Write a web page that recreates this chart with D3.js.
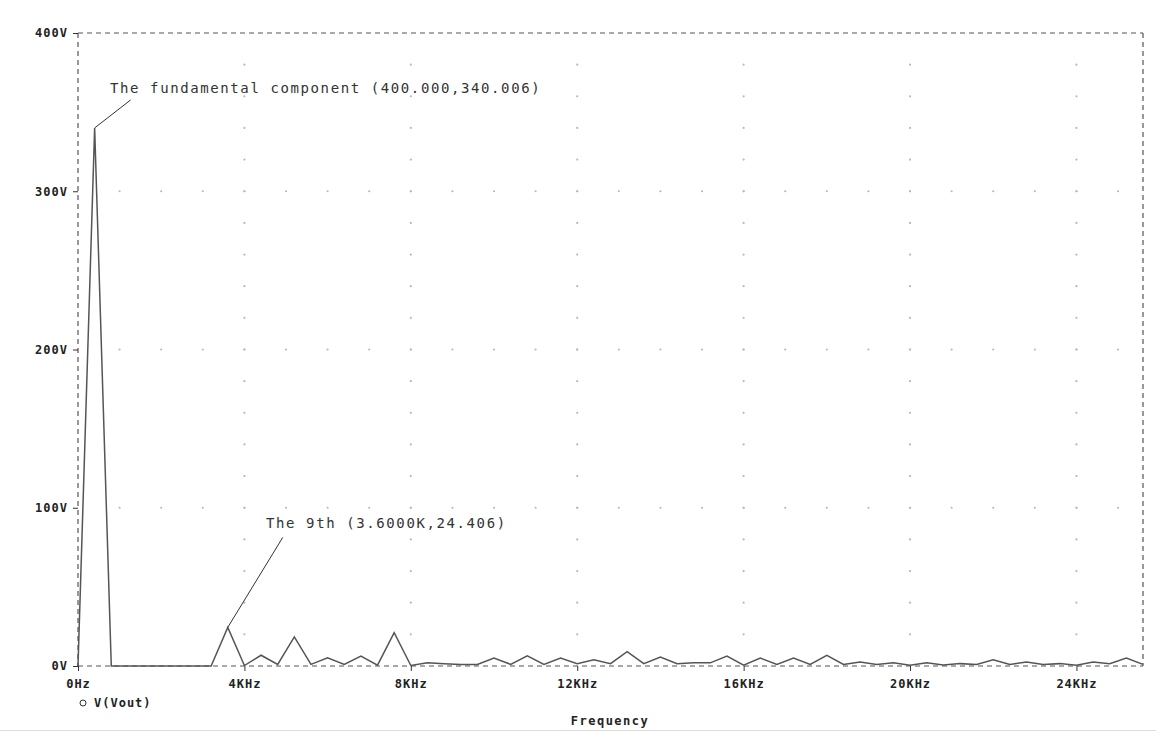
<!DOCTYPE html>
<meta charset="utf-8">
<title>Frequency spectrum</title>
<style>
body { margin: 0; background: #fff; }
svg { display: block; }
.tick-label { font-family: "DejaVu Sans Mono", monospace; font-weight: bold; font-size: 12px; fill: #222; letter-spacing: 1px; }
.note { font-family: "DejaVu Sans Mono", monospace; font-size: 14px; fill: #333; letter-spacing: 1.6px; }
</style>

<svg width="1156" height="732"></svg>
<script src="https://d3js.org/d3.v7.min.js"></script>
<script>

// sampled FFT bins (Hz)
var freqs = [0, 400, 800, 1200, 1600, 2000, 2400, 2800, 3200, 3600,
  4000, 4400, 4800, 5200, 5600, 6000, 6400, 6800, 7200, 7600,
  8000, 8400, 8800, 9200, 9600, 10000, 10400, 10800, 11200, 11600,
  12000, 12400, 12800, 13200, 13600, 14000, 14400, 14800, 15200, 15600,
  16000, 16400, 16800, 17200, 17600, 18000, 18400, 18800, 19200, 19600,
  20000, 20400, 20800, 21200, 21600, 22000, 22400, 22800, 23200, 23600,
  24000, 24400, 24800, 25200, 25600];

// V(Vout) magnitude (V)
var vout = [0, 340.006, 0, 0, 0, 0, 0, 0, 0, 24.406,
  0.3, 6.8, 1, 18.4, 1, 5.2, 1, 6.2, 0.5, 21,
  0.3, 2, 1.5, 1, 1, 5, 1, 6.4, 1, 5,
  1.5, 4, 1.5, 9, 1.5, 5.7, 1.5, 2, 2, 6.3,
  0.5, 5, 1, 5, 1, 6.7, 1, 2.5, 1, 2,
  0.5, 2, 0.7, 1.5, 1, 4, 1, 2.5, 1, 1.5,
  0.5, 2.5, 1.5, 5, 1];

var xTicks = [0, 4000, 8000, 12000, 16000, 20000, 24000];
var xTickLabels = ["0Hz", "4KHz", "8KHz", "12KHz", "16KHz", "20KHz", "24KHz"];
var yTicks = [0, 100, 200, 300, 400];
var yTickLabels = ["0V", "100V", "200V", "300V", "400V"];

var notes = [
  {f: 400, v: 340.006, text: "The fundamental component (400.000,340.006)", dx: 36, dy: -28, tx: 110, ty: 93},
  {f: 3600, v: 24.406, text: "The 9th (3.6000K,24.406)", dx: 55, dy: -90, tx: 266, ty: 528}
];

var svg = d3.select("svg");
var plotLeft = 78, plotRight = 1143, plotTop = 33, plotBottom = 666;

var x = d3.scaleLinear().domain([0, 25600]).range([plotLeft, plotRight]);
var y = d3.scaleLinear().domain([0, 400]).range([plotBottom, plotTop]);

// dotted grid (dots at minor steps along major lines)
var grid = svg.append("g").attr("fill", "#b8b8b8");
xTicks.slice(1).forEach(function(f) {
  d3.range(20, 400, 20).forEach(function(v) {
    grid.append("circle").attr("cx", x(f)).attr("cy", y(v)).attr("r", 1.1);
  });
});
yTicks.slice(1, 4).forEach(function(v) {
  d3.range(1000, 25600, 1000).forEach(function(f) {
    grid.append("circle").attr("cx", x(f)).attr("cy", y(v)).attr("r", 1.1);
  });
});

// dashed frame
var frame = svg.append("g").attr("stroke", "#555").attr("stroke-width", 1.2)
  .attr("stroke-dasharray", "5,4").attr("fill", "none");
frame.append("line").attr("x1", plotLeft).attr("x2", plotRight).attr("y1", plotTop).attr("y2", plotTop);
frame.append("line").attr("x1", plotLeft).attr("x2", plotRight).attr("y1", plotBottom).attr("y2", plotBottom);
frame.append("line").attr("x1", plotLeft).attr("x2", plotLeft).attr("y1", plotTop).attr("y2", plotBottom);
frame.append("line").attr("x1", plotRight).attr("x2", plotRight).attr("y1", plotTop).attr("y2", plotBottom);

// axes
var xAxis = svg.append("g").attr("transform", "translate(0," + plotBottom + ")")
  .call(d3.axisBottom(x).tickValues(xTicks).tickSize(5).tickPadding(8)
    .tickFormat(function(d, i) { return xTickLabels[i]; }));
xAxis.select(".domain").remove();
xAxis.selectAll("line").attr("stroke", "#333");
xAxis.selectAll("text").attr("class", "tick-label");

var yAxis = svg.append("g").attr("transform", "translate(" + plotLeft + ",0)")
  .call(d3.axisLeft(y).tickValues(yTicks).tickSize(5).tickPadding(5)
    .tickFormat(function(d, i) { return yTickLabels[i]; }));
yAxis.select(".domain").remove();
yAxis.selectAll("line").attr("stroke", "#333");
yAxis.selectAll("text").attr("class", "tick-label");

// trace
var line = d3.line()
  .x(function(d, i) { return x(freqs[i]); })
  .y(function(d) { return y(d); });

svg.append("path")
  .datum(vout)
  .attr("d", line)
  .attr("fill", "none")
  .attr("stroke", "#555")
  .attr("stroke-width", 1.5);

// annotations
notes.forEach(function(n) {
  svg.append("line")
    .attr("x1", x(n.f)).attr("y1", y(n.v))
    .attr("x2", x(n.f) + n.dx).attr("y2", y(n.v) + n.dy)
    .attr("stroke", "#333").attr("stroke-width", 1);
  svg.append("text").attr("class", "note")
    .attr("x", n.tx).attr("y", n.ty).text(n.text);
});

// legend + axis title
svg.append("circle").attr("cx", 83).attr("cy", 703).attr("r", 3)
  .attr("fill", "none").attr("stroke", "#333");
svg.append("text").attr("class", "tick-label").attr("x", 94).attr("y", 707).text("V(Vout)");
svg.append("text").attr("class", "tick-label").attr("x", 610).attr("y", 725)
  .attr("text-anchor", "middle").style("letter-spacing", "1.5px").text("Frequency");

svg.append("line").attr("x1", 0).attr("x2", 1156).attr("y1", 730.5).attr("y2", 730.5)
  .attr("stroke", "#ddd");

</script>
